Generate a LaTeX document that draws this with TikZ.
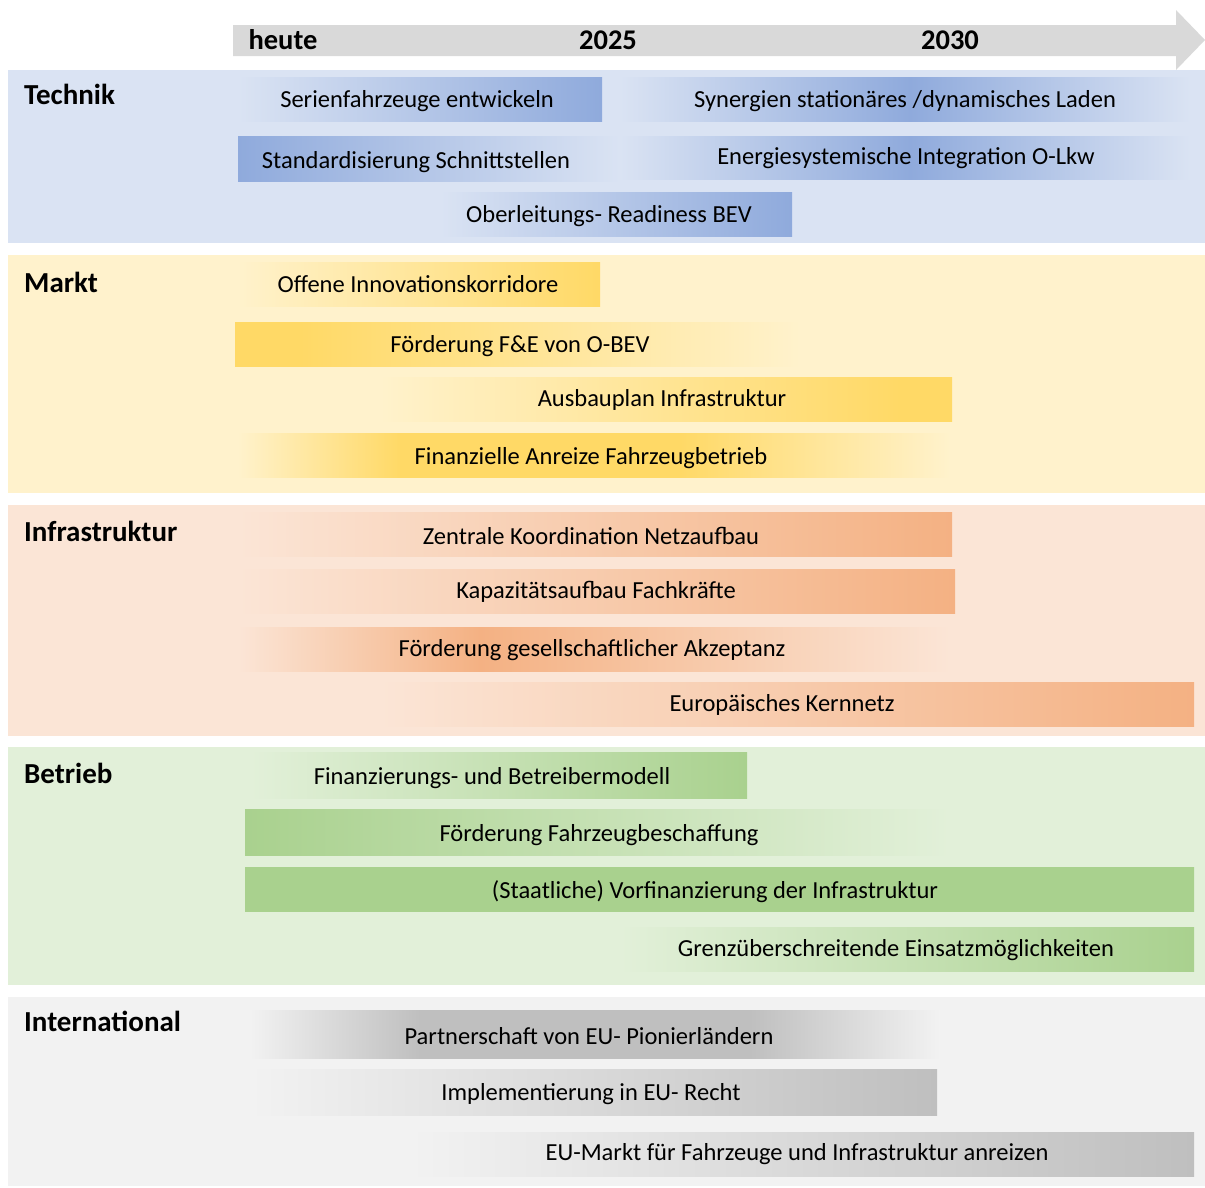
\documentclass[tikz,border=0pt]{standalone}
\usepackage{fontspec}
\setmainfont{Carlito}
\definecolor{bgB}{HTML}{DAE3F3}\definecolor{dkB}{HTML}{8FAADC}
\definecolor{bgY}{HTML}{FFF2CC}\definecolor{dkY}{HTML}{FFD966}
\definecolor{bgO}{HTML}{FBE5D6}\definecolor{dkO}{HTML}{F4B183}
\definecolor{bgG}{HTML}{E2F0D9}\definecolor{dkG}{HTML}{A9D18E}
\definecolor{bgK}{HTML}{F2F2F2}\definecolor{dkK}{HTML}{BFBFBF}
\definecolor{arr}{HTML}{D9D9D9}
\newcommand\gb[3]{%
  \foreach \xa/\ca [count=\i, remember=\xa as \xp, remember=\ca as \cp] in {#3}{%
    \ifnum\i>1 \shade[left color=\cp, right color=\ca] (\xp,#1) rectangle (\xa,#2);\fi}}
\tikzset{
  bt/.style={anchor=base, inner sep=0pt, font=\fontsize{24.5}{28}\selectfont},
  sect/.style={anchor=base west, inner sep=0pt, font=\fontsize{29}{32}\selectfont\bfseries},
  hdr/.style={anchor=base, inner sep=0pt, font=\fontsize{28.5}{32}\selectfont\bfseries},
}
\begin{document}
\begin{tikzpicture}[x=1pt,y=-1pt]
\useasboundingbox (0,0) rectangle (1205,1187);
\fill[white] (0,0) rectangle (1205,1187);
% timeline arrow
\fill[arr] (233,25) -- (1176,25) -- (1176,10) -- (1205,40) -- (1176,70) -- (1176,56) -- (233,56) -- cycle;
\node[hdr] (heute) at (283,49) {heute};
\node[hdr] (y2025) at (608,49) {2025};
\node[hdr] (y2030) at (950,49) {2030};
% sections
\fill[bgB] (8,70) rectangle (1205,243);
\fill[bgY] (8,255) rectangle (1205,493);
\fill[bgO] (8,505) rectangle (1205,736);
\fill[bgG] (8,747) rectangle (1205,985);
\fill[bgK] (8,997) rectangle (1205,1186);
\node[sect] (sTechnik) at (24,104) {Technik};
\node[sect] (sMarkt) at (24,292) {Markt};
\node[sect] (sInfra) at (24,541) {Infrastruktur};
\node[sect] (sBetrieb) at (24,783) {Betrieb};
\node[sect] (sIntl) at (24,1031) {International};
% Technik
\gb{77}{121}{238/bgB,602/dkB}
\gb{77}{121}{620/bgB,910/dkB,1190/bgB}
\gb{136}{181}{238/dkB,620/bgB}
\gb{136}{179}{620/bgB,910/dkB,1190/bgB}
\gb{192}{236}{440/bgB,792/dkB}
\node[bt] (t1) at (417,107) {Serienfahrzeuge entwickeln};
\node[bt] (t2) at (905,107) {Synergien stationäres /dynamisches Laden};
\node[bt] (t3) at (416,168) {Standardisierung Schnittstellen};
\node[bt] (t4) at (906,164) {Energiesystemische Integration O-Lkw};
\node[bt] (t5) at (609,222) {Oberleitungs- Readiness BEV};
% Markt
\gb{262}{306}{238/bgY,600/dkY}
\gb{322}{366}{235/dkY,300/dkY,800/bgY}
\gb{377}{421}{380/bgY,900/dkY,952/dkY}
\gb{433}{477}{238/bgY,400/dkY,680/dkY,950/bgY}
\node[bt] (m1) at (418,292) {Offene Innovationskorridore};
\node[bt] (m2) at (520,352) {Förderung F\&E von O-BEV};
\node[bt] (m3) at (662,406) {Ausbauplan Infrastruktur};
\node[bt] (m4) at (591,464) {Finanzielle Anreize Fahrzeugbetrieb};
% Infrastruktur
\gb{512}{556}{238/bgO,952/dkO}
\gb{569}{613}{238/bgO,955/dkO}
\gb{627}{671}{238/bgO,480/dkO,950/bgO}
\gb{682}{726}{380/bgO,1194/dkO}
\node[bt] (i1) at (591,544) {Zentrale Koordination Netzaufbau};
\node[bt] (i2) at (596,598) {Kapazitätsaufbau Fachkräfte};
\node[bt] (i3) at (592,656) {Förderung gesellschaftlicher Akzeptanz};
\node[bt] (i4) at (782,711) {Europäisches Kernnetz};
% Betrieb
\gb{752}{798}{250/bgG,747/dkG}
\gb{809}{855}{245/dkG,950/bgG}
\gb{867}{911}{245/dkG,1194/dkG}
\gb{927}{971}{620/bgG,1194/dkG}
\node[bt] (b1) at (492,784) {Finanzierungs- und Betreibermodell};
\node[bt] (b2) at (599,841) {Förderung Fahrzeugbeschaffung};
\node[bt] (b3) at (715,898) {(Staatliche) Vorfinanzierung der Infrastruktur};
\node[bt] (b4) at (896,956) {Grenzüberschreitende Einsatzmöglichkeiten};
% International
\gb{1010}{1058}{250/bgK,420/dkK,750/dkK,940/bgK}
\gb{1069}{1115}{250/bgK,937/dkK}
\gb{1132}{1176}{410/bgK,1194/dkK}
\node[bt] (n1) at (589,1044) {Partnerschaft von EU- Pionierländern};
\node[bt] (n2) at (591,1100) {Implementierung in EU- Recht};
\node[bt] (n3) at (797,1160) {EU-Markt für Fahrzeuge und Infrastruktur anreizen};
\end{tikzpicture}
\end{document}
